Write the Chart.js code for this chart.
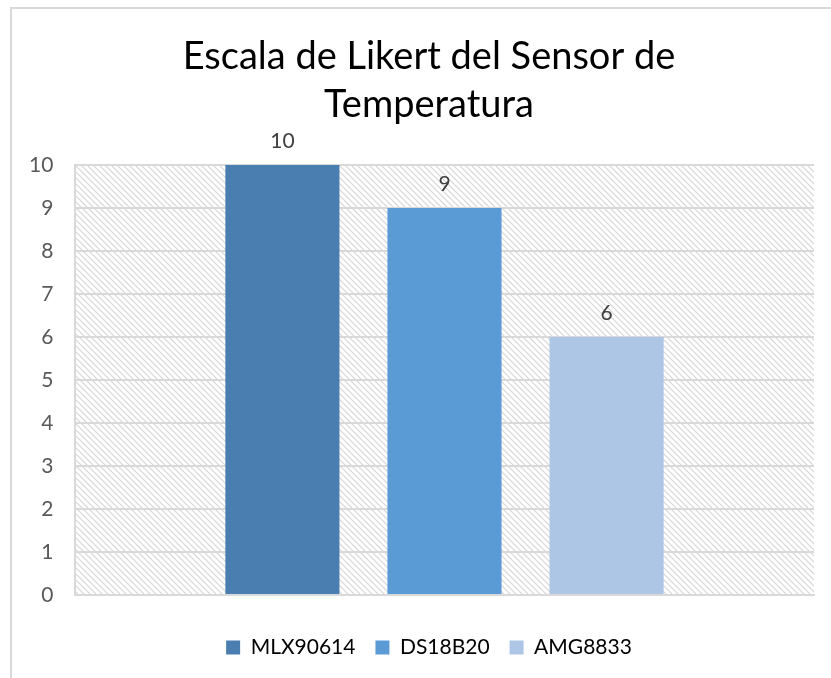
<!DOCTYPE html>
<html>
<head>
<meta charset="utf-8">
<script src="https://cdn.jsdelivr.net/npm/chart.js@4.4.0/dist/chart.umd.min.js"></script>
<style>
  html, body { margin: 0; padding: 0; background: #fff; }
  #wrap { position: relative; width: 831px; height: 678px; overflow: hidden; }
  #frame { position: absolute; left: 10px; top: 7px; width: 900px; height: 800px; border: 2px solid #d9d9d9; box-sizing: border-box; }
  canvas { position: absolute; left: 0; top: 0; }
</style>
</head>
<body>
<div id="wrap">
  <div id="frame"></div>
  <canvas id="chart" width="831" height="678"></canvas>
</div>
<script>
const titleLines = ['Escala de Likert del Sensor de', 'Temperatura'];
const categories = [''];
const seriesNames = ['MLX90614', 'DS18B20', 'AMG8833'];
const seriesValues = [[10], [9], [6]];
const seriesColors = ['#4a7eb0', '#5b9bd5', '#adc6e6'];
const yTicks = [0, 1, 2, 3, 4, 5, 6, 7, 8, 9, 10];

const FONT = 'Lato, "Open Sans", sans-serif';

// hatched background like excel "light downward diagonal"
function makeHatch() {
    const c = document.createElement('canvas');
    c.width = 6; c.height = 6;
    const g = c.getContext('2d');
    g.fillStyle = '#ffffff';
    g.fillRect(0, 0, 6, 6);
    g.strokeStyle = '#d6d6d6';
    g.lineWidth = 1.2;
    g.beginPath();
    g.moveTo(-1, -1); g.lineTo(7, 7);
    g.moveTo(-1, 5); g.lineTo(1, 7);
    g.moveTo(5, -1); g.lineTo(7, 1);
    g.stroke();
    return g.createPattern(c, 'repeat');
}

const hatchBg = {
    id: 'hatchBg',
    beforeDraw(chart) {
        const { ctx, chartArea: a } = chart;
        ctx.save();
        ctx.fillStyle = makeHatch();
        ctx.fillRect(a.left, a.top, a.right - a.left, a.bottom - a.top);
        ctx.restore();
    }
};

const valueLabels = {
    id: 'valueLabels',
    afterDatasetsDraw(chart) {
        const ctx = chart.ctx;
        ctx.save();
        ctx.font = '21px ' + FONT;
        ctx.fillStyle = '#404040';
        ctx.textAlign = 'center';
        ctx.textBaseline = 'bottom';
        chart.data.datasets.forEach((ds, i) => {
            chart.getDatasetMeta(i).data.forEach((bar, j) => {
                ctx.fillText(ds.data[j], bar.x, bar.y - 13);
            });
        });
        ctx.restore();
    }
};

new Chart(document.getElementById('chart'), {
    type: 'bar',
    data: {
        labels: categories,
        datasets: seriesNames.map((name, i) => ({
            label: name,
            data: seriesValues[i],
            backgroundColor: seriesColors[i],
            borderWidth: 0,
            categoryPercentage: 0.658,
            barPercentage: 0.704
        }))
    },
    options: {
        responsive: false,
        animation: false,
        layout: { padding: { left: 44, right: 17, top: 28, bottom: 10 } },
        plugins: {
            title: {
                display: true,
                text: titleLines,
                color: '#000',
                font: { family: FONT, size: 38, weight: 'normal', lineHeight: 1.263 },
                padding: { top: 5, bottom: 36 }
            },
            legend: {
                position: 'bottom',
                labels: {
                    color: '#000',
                    font: { family: FONT, size: 21 },
                    boxWidth: 14,
                    boxHeight: 14,
                    padding: 20
                }
            },
            tooltip: { enabled: false }
        },
        scales: {
            x: {
                afterFit(scale) { scale.height = 22; },
                ticks: { display: false },
                grid: { display: false, drawTicks: false },
                border: { display: true, color: '#d9d9d9', width: 2 }
            },
            y: {
                min: 0,
                max: 10,
                afterFit(scale) { scale.width = 31; },
                afterBuildTicks(scale) { scale.ticks = yTicks.map(v => ({ value: v })); },
                ticks: {
                    color: '#595959',
                    mirror: true,
                    crossAlign: 'far',
                    padding: -46,
                    font: { family: FONT, size: 21 }
                },
                grid: { color: '#d9d9d9', lineWidth: 2, drawTicks: false },
                border: { display: true, color: '#d9d9d9', width: 2 }
            }
        }
    },
    plugins: [hatchBg, valueLabels]
});
</script>
</body>
</html>
